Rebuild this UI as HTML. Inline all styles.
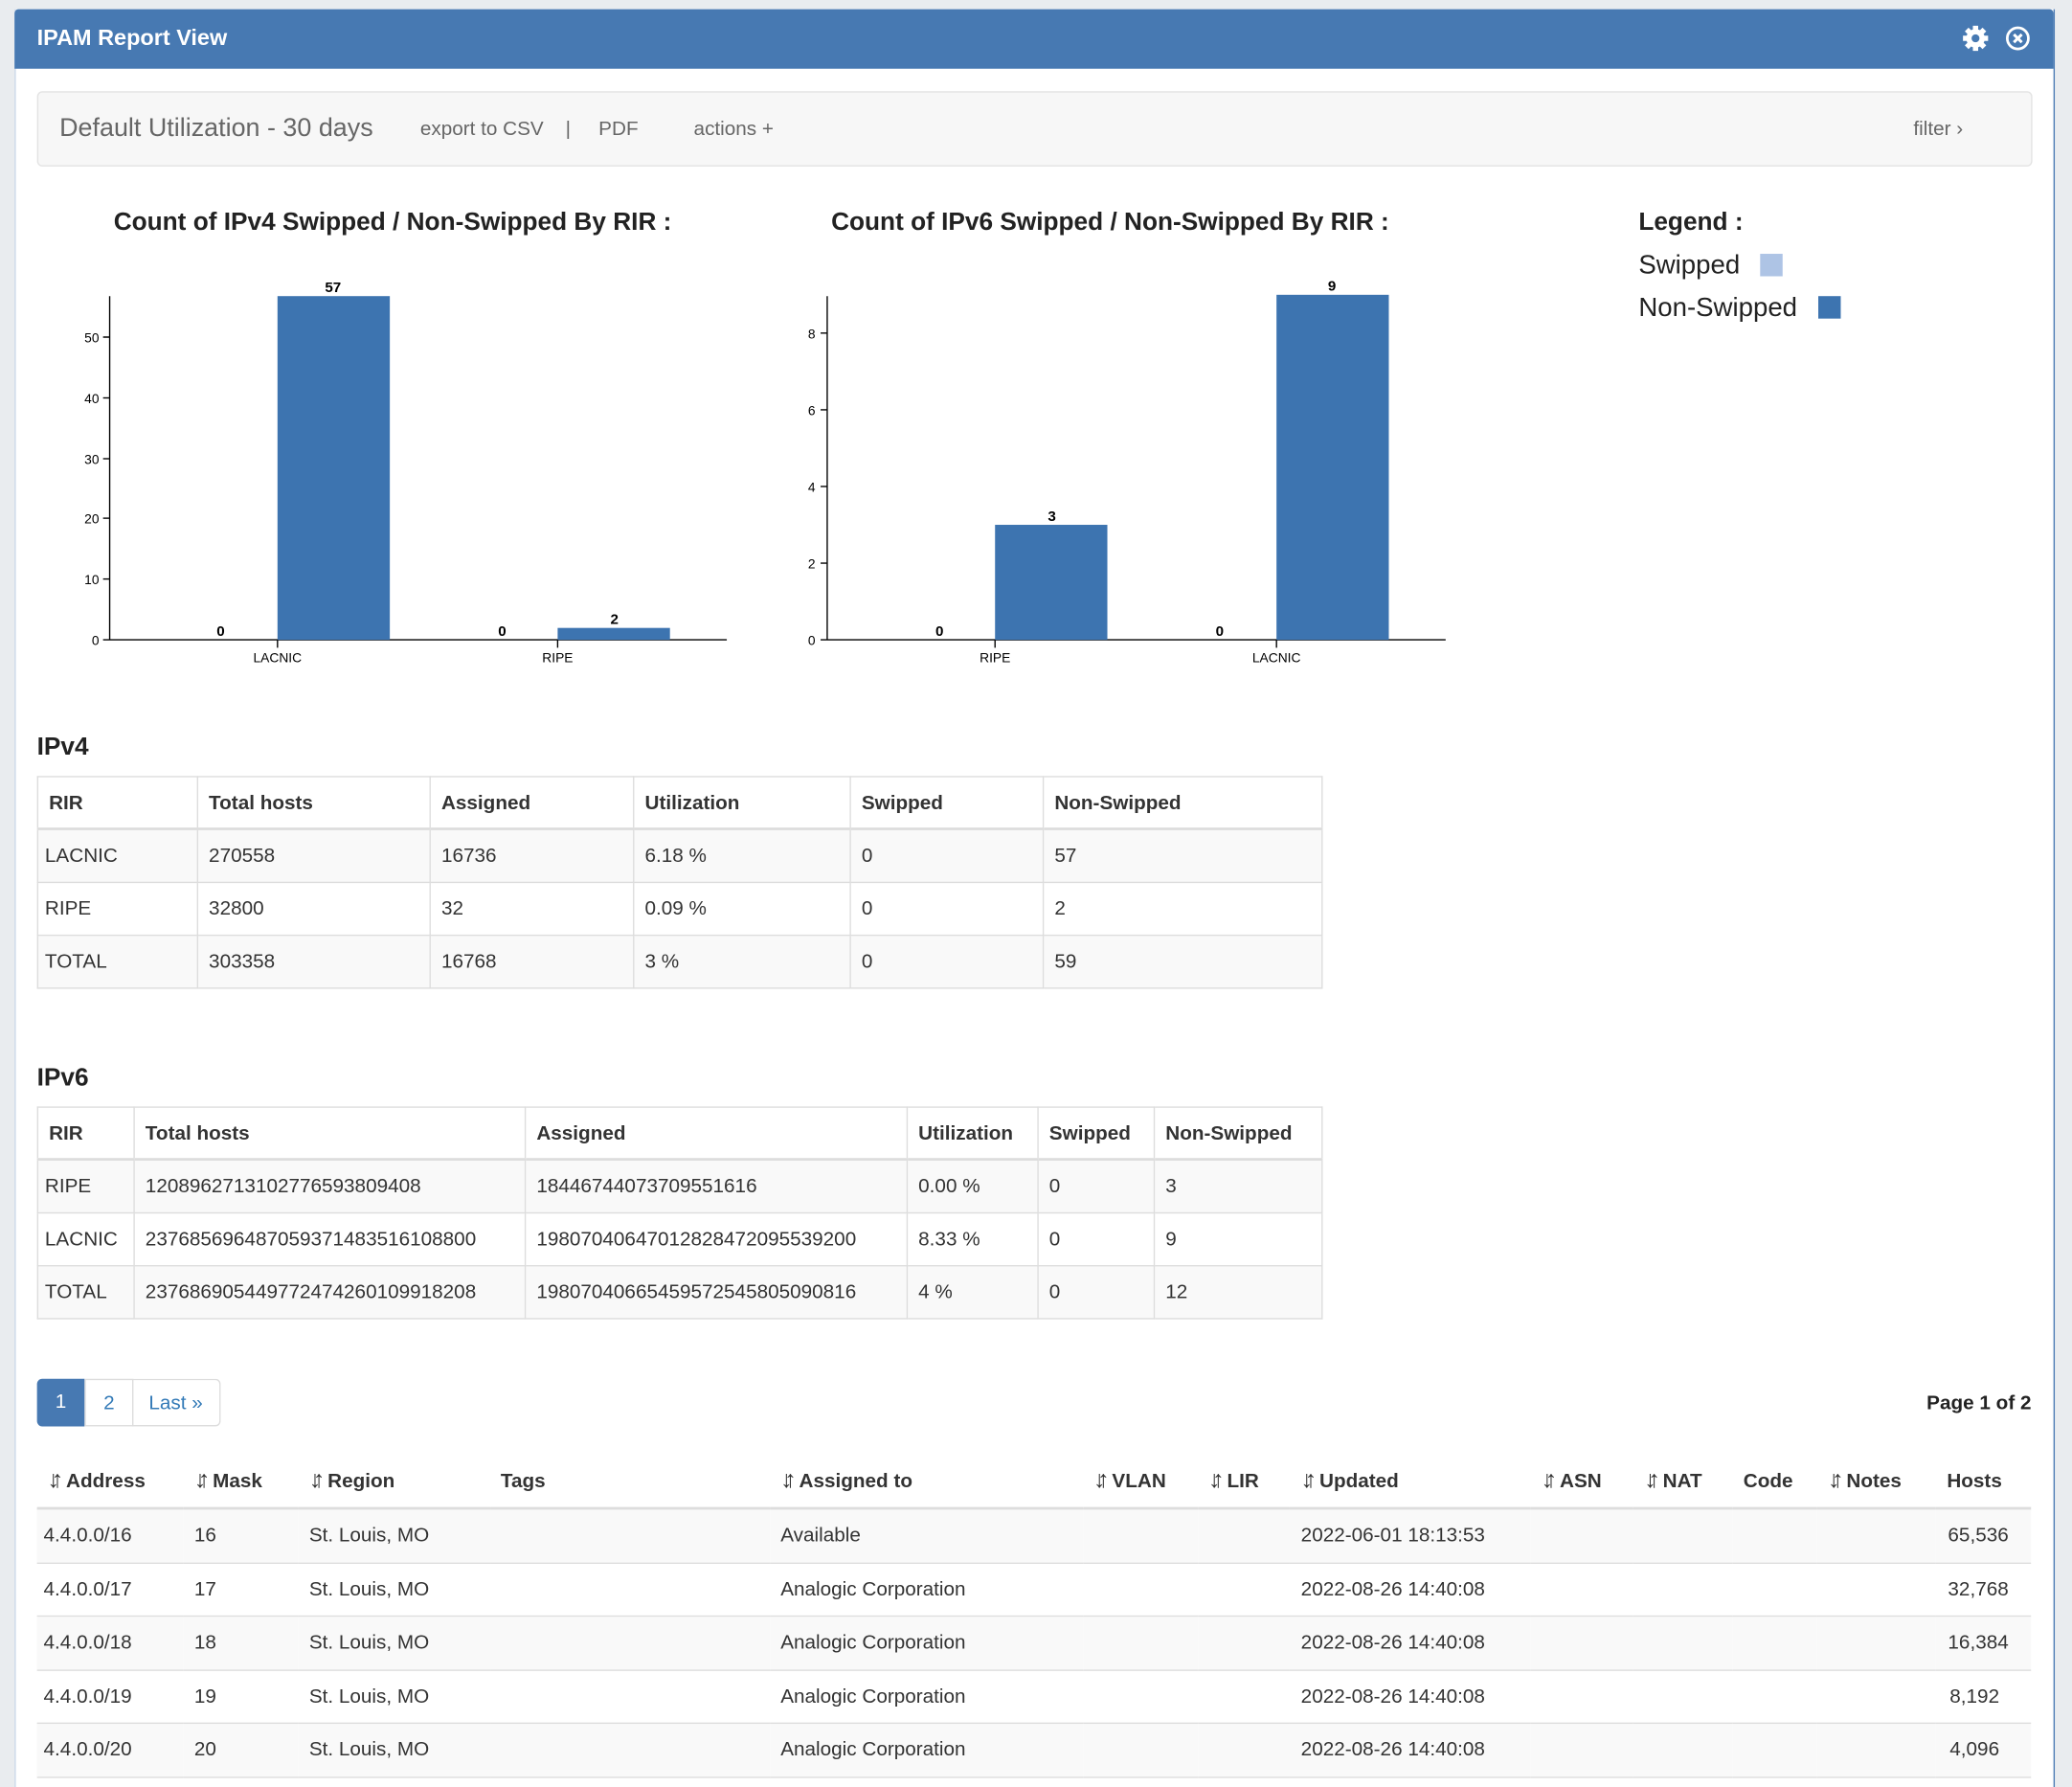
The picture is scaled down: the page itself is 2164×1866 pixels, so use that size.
<!DOCTYPE html>
<html><head><meta charset="utf-8">
<style>
html,body{margin:0;padding:0;width:2164px;height:1858px;overflow:hidden;background:#e9ecef;}
#w{position:absolute;left:0;top:0;width:1568px;height:1346px;transform:scale(1.38010,1.38039);transform-origin:0 0;font-family:"Liberation Sans",Arial,sans-serif;color:#333;}
.a{position:absolute;white-space:nowrap;}
.panel{position:absolute;left:11px;top:7px;width:1542px;height:1345px;background:#fff;border-right:1px solid #4a7ab3;border-left:1px solid #c9d7e8;}
.hdr{position:absolute;left:11px;top:7px;width:1543px;height:45px;background:#4779b2;border-radius:3px 3px 0 0;}
table{position:absolute;border-collapse:collapse;font-size:15px;}
td,th{padding:0 8px;text-align:left;height:39px;}
.bt td,.bt th{border:1px solid #ddd;}
.bt th{border-bottom:2px solid #ddd;height:38px;}
.s{background:#f9f9f9;}
.ax{font-size:10px;fill:#000;font-family:"Liberation Sans",sans-serif;}
.lb{font-size:11px;font-weight:bold;fill:#000;font-family:"Liberation Sans",sans-serif;}
.dt td{border-top:1px solid #ddd;height:39.5px;}
.dt tr:last-child td{border-bottom:1px solid #ddd;}
.dt th{border-bottom:2px solid #ddd;height:39px;line-height:18px;}
.si{font-size:18px;line-height:15px;letter-spacing:-6px;margin-right:8px;font-weight:bold;display:inline-block;vertical-align:top;}
</style></head><body><div id="w">
<div class="panel"></div>
<div class="hdr"></div>
<div class="a" style="left:28px;top:19px;font-size:17px;font-weight:bold;color:#fff;">IPAM Report View</div>
<svg class="a" style="left:1484px;top:18px" width="22" height="22" viewBox="0 0 22 22"><g fill="#fff"><circle cx="11" cy="11" r="7"/><g stroke="#fff" stroke-width="4"><line x1="11" y1="1.5" x2="11" y2="20.5"/><line x1="1.5" y1="11" x2="20.5" y2="11"/><line x1="4.3" y1="4.3" x2="17.7" y2="17.7"/><line x1="17.7" y1="4.3" x2="4.3" y2="17.7"/></g></g><circle cx="11" cy="11" r="3" fill="#4779b2"/></svg>
<svg class="a" style="left:1517px;top:19px" width="20" height="20" viewBox="0 0 20 20"><circle cx="10" cy="10" r="8" fill="none" stroke="#fff" stroke-width="2"/><path d="M7 7L13 13M13 7L7 13" stroke="#fff" stroke-width="2.2"/></svg>

<div class="a" style="left:28px;top:69px;width:1508px;height:55px;background:#f7f7f7;border:1px solid #e3e3e3;border-radius:4px;"></div>
<div class="a" style="left:45px;top:86px;font-size:19.5px;color:#666;">Default Utilization - 30 days</div>
<div class="a" style="left:318px;top:89px;font-size:15px;color:#666;">export to CSV</div>
<div class="a" style="left:428px;top:89px;font-size:15px;color:#666;">|</div>
<div class="a" style="left:453px;top:89px;font-size:15px;color:#666;">PDF</div>
<div class="a" style="left:525px;top:89px;font-size:15px;color:#666;">actions +</div>
<div class="a" style="left:1448px;top:89px;font-size:15px;color:#666;">filter &#8250;</div>

<div class="a" style="left:86px;top:158px;font-size:19px;font-weight:bold;color:#222;">Count of IPv4 Swipped / Non-Swipped By RIR :</div>
<div class="a" style="left:629px;top:158px;font-size:19px;font-weight:bold;color:#222;">Count of IPv6 Swipped / Non-Swipped By RIR :</div>

<svg class="a" style="left:0;top:200px" width="1120" height="320">
<g transform="translate(0,-200)">
<line x1="83" y1="224" x2="83" y2="484" stroke="#000"/>
<line x1="83" y1="484" x2="550" y2="484" stroke="#000"/>
<g stroke="#000">
<line x1="78" y1="484" x2="83" y2="484"/><line x1="78" y1="438" x2="83" y2="438"/><line x1="78" y1="392" x2="83" y2="392"/><line x1="78" y1="347" x2="83" y2="347"/><line x1="78" y1="301" x2="83" y2="301"/><line x1="78" y1="255" x2="83" y2="255"/>
<line x1="210" y1="484" x2="210" y2="490"/><line x1="422" y1="484" x2="422" y2="490"/>
</g>
<g class="ax" text-anchor="end">
<text x="75" y="488">0</text><text x="75" y="442">10</text><text x="75" y="396">20</text><text x="75" y="351">30</text><text x="75" y="305">40</text><text x="75" y="259">50</text>
</g>
<g class="ax" text-anchor="middle"><text x="210" y="501">LACNIC</text><text x="422" y="501">RIPE</text></g>
<rect x="210" y="224" width="85" height="260" fill="#3d74b0"/>
<rect x="422" y="475" width="85" height="9" fill="#3d74b0"/>
<g class="lb" text-anchor="middle"><text x="167" y="481">0</text><text x="252" y="221">57</text><text x="380" y="481">0</text><text x="465" y="472">2</text></g>

<line x1="626" y1="224" x2="626" y2="484" stroke="#000"/>
<line x1="626" y1="484" x2="1094" y2="484" stroke="#000"/>
<g stroke="#000">
<line x1="621" y1="484" x2="626" y2="484"/><line x1="621" y1="426" x2="626" y2="426"/><line x1="621" y1="368" x2="626" y2="368"/><line x1="621" y1="310" x2="626" y2="310"/><line x1="621" y1="252" x2="626" y2="252"/>
<line x1="753" y1="484" x2="753" y2="490"/><line x1="966" y1="484" x2="966" y2="490"/>
</g>
<g class="ax" text-anchor="end">
<text x="617" y="488">0</text><text x="617" y="430">2</text><text x="617" y="372">4</text><text x="617" y="314">6</text><text x="617" y="256">8</text>
</g>
<g class="ax" text-anchor="middle"><text x="753" y="501">RIPE</text><text x="966" y="501">LACNIC</text></g>
<rect x="753" y="397" width="85" height="87" fill="#3d74b0"/>
<rect x="966" y="223" width="85" height="261" fill="#3d74b0"/>
<g class="lb" text-anchor="middle"><text x="711" y="481">0</text><text x="796" y="394">3</text><text x="923" y="481">0</text><text x="1008" y="220">9</text></g>
</g></svg>

<div class="a" style="left:1240px;top:158px;font-size:19px;font-weight:bold;color:#222;">Legend :</div>
<div class="a" style="left:1240px;top:190px;font-size:20px;color:#222;">Swipped</div>
<div class="a" style="left:1332px;top:192px;width:17px;height:17px;background:#aec4e5;"></div>
<div class="a" style="left:1240px;top:222px;font-size:20px;color:#222;">Non-Swipped</div>
<div class="a" style="left:1376px;top:224px;width:17px;height:17px;background:#3d74b0;"></div>

<div class="a" style="left:28px;top:555px;font-size:19px;font-weight:bold;color:#222;">IPv4</div>
<table class="bt" style="left:28px;top:587px;width:973px;">
<tr><th style="width:104px">RIR</th><th style="width:159px">Total hosts</th><th style="width:137px">Assigned</th><th style="width:147px">Utilization</th><th style="width:129px">Swipped</th><th>Non-Swipped</th></tr>
<tr class="s"><td style="padding-left:5px">LACNIC</td><td>270558</td><td>16736</td><td>6.18 %</td><td>0</td><td>57</td></tr>
<tr><td style="padding-left:5px">RIPE</td><td>32800</td><td>32</td><td>0.09 %</td><td>0</td><td>2</td></tr>
<tr class="s"><td style="padding-left:5px">TOTAL</td><td>303358</td><td>16768</td><td>3 %</td><td>0</td><td>59</td></tr>
</table>

<div class="a" style="left:28px;top:805px;font-size:19px;font-weight:bold;color:#222;">IPv6</div>
<table class="bt" style="left:28px;top:837px;width:973px;">
<tr><th style="width:56px">RIR</th><th style="width:279px">Total hosts</th><th style="width:272px">Assigned</th><th style="width:82px">Utilization</th><th style="width:71px">Swipped</th><th>Non-Swipped</th></tr>
<tr class="s"><td style="padding-left:5px">RIPE</td><td>1208962713102776593809408</td><td>18446744073709551616</td><td>0.00 %</td><td>0</td><td>3</td></tr>
<tr><td style="padding-left:5px">LACNIC</td><td>237685696487059371483516108800</td><td>19807040647012828472095539200</td><td>8.33 %</td><td>0</td><td>9</td></tr>
<tr class="s"><td style="padding-left:5px">TOTAL</td><td>237686905449772474260109918208</td><td>19807040665459572545805090816</td><td>4 %</td><td>0</td><td>12</td></tr>
</table>

<div class="a" style="left:28px;top:1043px;width:36px;height:36px;background:#4779b2;border-radius:4px 0 0 4px;color:#fff;font-size:15px;text-align:center;line-height:36px;">1</div>
<div class="a" style="left:64px;top:1043px;width:35px;height:34px;border:1px solid #ddd;color:#337ab7;font-size:15px;text-align:center;line-height:35px;">2</div>
<div class="a" style="left:100px;top:1043px;width:66px;height:34px;border:1px solid #ddd;border-left:none;border-radius:0 4px 4px 0;color:#337ab7;font-size:15px;text-align:center;line-height:35px;">Last »</div>
<div class="a" style="left:1458px;top:1053px;font-size:15px;font-weight:bold;color:#222;">Page 1 of 2</div>

<table class="dt" style="left:28px;top:1101px;width:1509px;">
<tr>
<th style="width:95px"><span class="si">↓↑</span>Address</th>
<th style="width:71px"><span class="si">↓↑</span>Mask</th>
<th style="width:129px"><span class="si">↓↑</span>Region</th>
<th style="width:196px">Tags</th>
<th style="width:221px"><span class="si">↓↑</span>Assigned to</th>
<th style="width:71px"><span class="si">↓↑</span>VLAN</th>
<th style="width:54px"><span class="si">↓↑</span>LIR</th>
<th style="width:166px"><span class="si">↓↑</span>Updated</th>
<th style="width:62px"><span class="si">↓↑</span>ASN</th>
<th style="width:59px"><span class="si">↓↑</span>NAT</th>
<th style="width:48px">Code</th>
<th style="width:74px"><span class="si">↓↑</span>Notes</th>
<th style="text-align:right;padding-right:22px">Hosts</th></tr>
<tr class="s"><td style="padding-left:5px">4.4.0.0/16</td><td>16</td><td>St. Louis, MO</td><td></td><td>Available</td><td></td><td></td><td>2022-06-01 18:13:53</td><td></td><td></td><td></td><td></td><td style="text-align:right;padding-right:17px">65,536</td></tr>
<tr><td style="padding-left:5px">4.4.0.0/17</td><td>17</td><td>St. Louis, MO</td><td></td><td>Analogic Corporation</td><td></td><td></td><td>2022-08-26 14:40:08</td><td></td><td></td><td></td><td></td><td style="text-align:right;padding-right:17px">32,768</td></tr>
<tr class="s"><td style="padding-left:5px">4.4.0.0/18</td><td>18</td><td>St. Louis, MO</td><td></td><td>Analogic Corporation</td><td></td><td></td><td>2022-08-26 14:40:08</td><td></td><td></td><td></td><td></td><td style="text-align:right;padding-right:17px">16,384</td></tr>
<tr><td style="padding-left:5px">4.4.0.0/19</td><td>19</td><td>St. Louis, MO</td><td></td><td>Analogic Corporation</td><td></td><td></td><td>2022-08-26 14:40:08</td><td></td><td></td><td></td><td></td><td style="text-align:right;padding-right:24px">8,192</td></tr>
<tr class="s"><td style="padding-left:5px">4.4.0.0/20</td><td>20</td><td>St. Louis, MO</td><td></td><td>Analogic Corporation</td><td></td><td></td><td>2022-08-26 14:40:08</td><td></td><td></td><td></td><td></td><td style="text-align:right;padding-right:24px">4,096</td></tr>
</table>
</div></body></html>
